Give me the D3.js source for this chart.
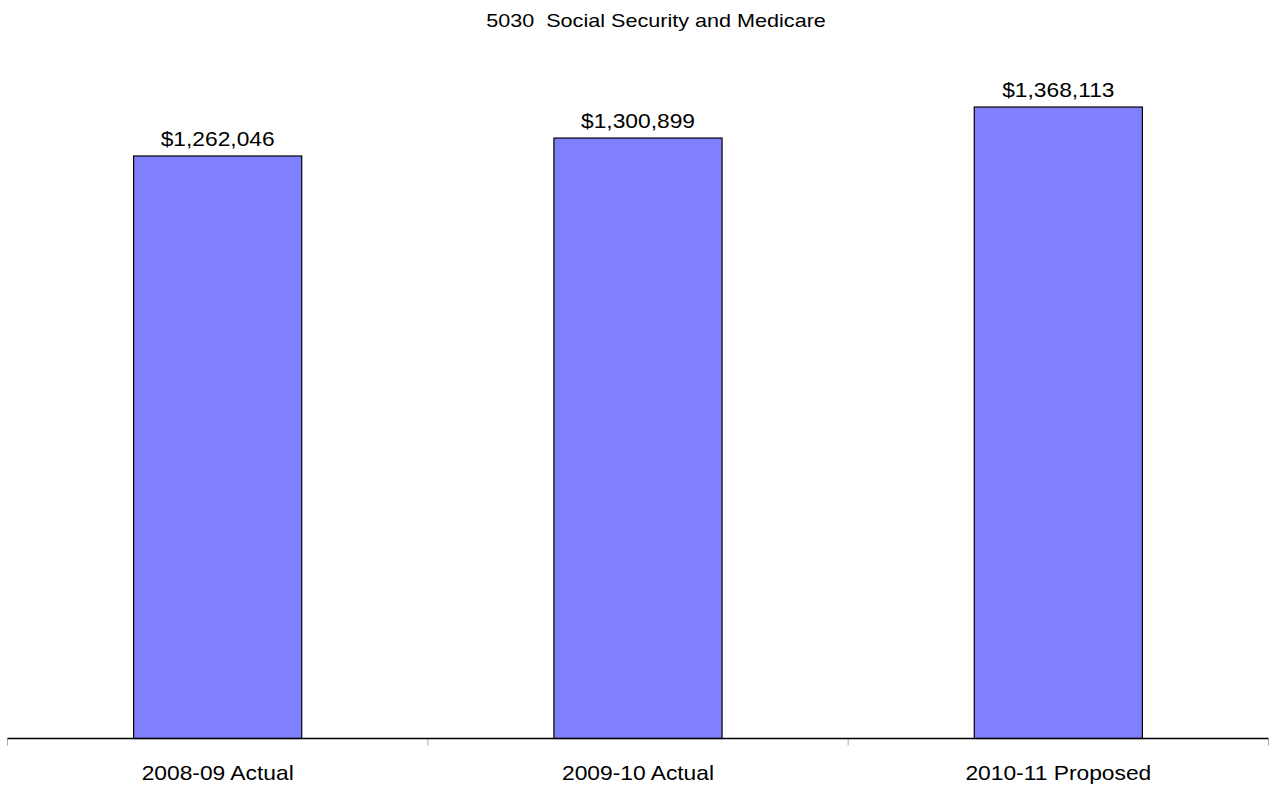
<!DOCTYPE html>
<html>
<head>
<meta charset="utf-8">
<script src="https://cdn.jsdelivr.net/npm/d3@7"></script>
<style>
  html, body { margin: 0; padding: 0; background: #fff; }
  svg { display: block; font-family: "Liberation Sans", Arial, sans-serif; }
  text { white-space: pre; }
</style>
</head>
<body>
<svg id="chart" width="1270" height="785"></svg>
<script>
// Budget line item totals by fiscal year
const chartTitle = "5030  Social Security and Medicare";
const categories = ["2008-09 Actual", "2009-10 Actual", "2010-11 Proposed"];
const amounts = [1262046, 1300899, 1368113];
const yDomainMax = 1600000;

const svg = d3.select("#chart");
const plot = { left: 7.5, right: 1268.5, top: 0, bottom: 738.5 };

const x = d3.scaleBand()
  .domain(categories)
  .range([plot.left, plot.right])
  .paddingInner(0)
  .paddingOuter(0);

const y = d3.scaleLinear()
  .domain([0, yDomainMax])
  .range([plot.bottom, plot.top]);

const barFrac = 0.4;
const money = v => "$" + d3.format(",")(v);
// text in this chart is set slightly wide
const wide = (px, py, sx) => `translate(${px},${py}) scale(${sx},1)`;

svg.append("text")
  .attr("transform", wide(656, 26.5, 1.2))
  .attr("text-anchor", "middle")
  .attr("font-size", 18)
  .attr("fill", "#000")
  .text(chartTitle);

const data = categories.map((c, i) => ({ c, v: amounts[i] }));

svg.selectAll("rect.bar")
  .data(data)
  .join("rect")
  .attr("class", "bar")
  .attr("x", d => x(d.c) + x.bandwidth() * (1 - barFrac) / 2)
  .attr("width", x.bandwidth() * barFrac)
  .attr("y", d => y(d.v))
  .attr("height", d => y(0) - y(d.v))
  .attr("fill", "#8080FF")
  .attr("stroke", "#000")
  .attr("stroke-width", 1.2);

svg.selectAll("text.val")
  .data(data)
  .join("text")
  .attr("class", "val")
  .attr("transform", d => wide(x(d.c) + x.bandwidth() / 2, y(d.v) - 10, 1.14))
  .attr("text-anchor", "middle")
  .attr("font-size", 20)
  .attr("fill", "#000")
  .text(d => money(d.v));

// category axis: gray tick marks at band boundaries, labels centered
const axis = svg.append("g").attr("transform", `translate(0,${plot.bottom})`);
const boundaries = categories.map(c => x(c)).concat([x(categories[categories.length - 1]) + x.bandwidth()]);
axis.selectAll("line.tick")
  .data(boundaries)
  .join("line")
  .attr("class", "tick")
  .attr("x1", d => d).attr("x2", d => d)
  .attr("y1", 0).attr("y2", 7)
  .attr("stroke", "#aaa")
  .attr("stroke-width", 1);
axis.append("line")
  .attr("x1", plot.left).attr("x2", plot.right)
  .attr("y1", 0).attr("y2", 0)
  .attr("stroke", "#000")
  .attr("stroke-width", 1.3);
axis.selectAll("text.cat")
  .data(categories)
  .join("text")
  .attr("class", "cat")
  .attr("transform", d => wide(x(d) + x.bandwidth() / 2, 41, 1.14))
  .attr("text-anchor", "middle")
  .attr("font-size", 20)
  .attr("fill", "#000")
  .text(d => d);
</script>
</body>
</html>
